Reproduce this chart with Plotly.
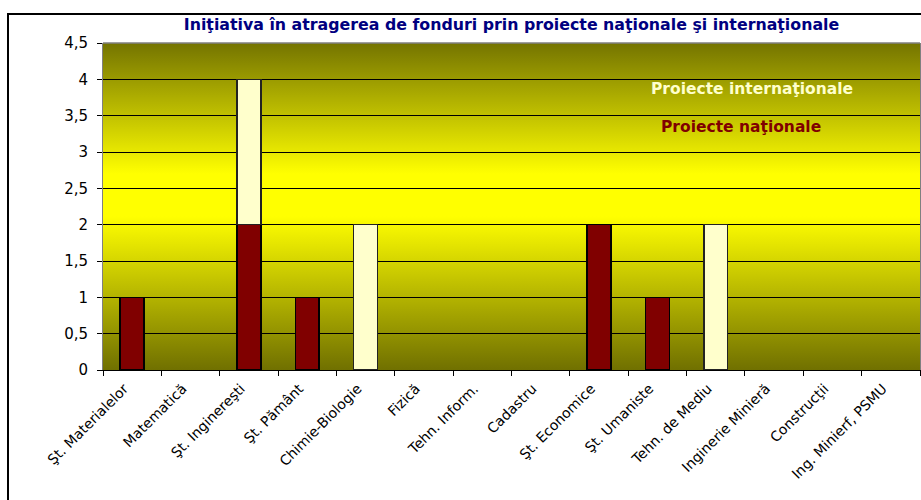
import base64
import plotly.graph_objects as go

# ---- data ----
categories = ["Şt. Materialelor", "Matematică", "Şt. Inginereşti", "Şt. Pământ",
              "Chimie-Biologie", "Fizică", "Tehn. Inform.", "Cadastru",
              "Şt. Economice", "Şt. Umaniste", "Tehn. de Mediu",
              "Inginerie Minieră", "Construcţii", "Ing. Minierf, PSMU"]
proiecte_nationale = [1, 0, 2, 1, 0, 0, 0, 0, 2, 1, 0, 0, 0, 0]
proiecte_internationale = [0, 0, 2, 0, 2, 0, 0, 0, 0, 0, 2, 0, 0, 0]
series_names = ["Proiecte naţionale", "Proiecte internaţionale"]
title_text = "Iniţiativa în atragerea de fonduri prin proiecte naţionale şi internaţionale"

COL_NAT = "#800000"
COL_INT = "#FFFFCC"
FONT = "DejaVu Sans"

def nz(vals):
    return [v if v else None for v in vals]

fig = go.Figure()
fig.add_trace(go.Bar(x=categories, y=nz(proiecte_nationale), name=series_names[0],
                     marker=dict(color=COL_NAT, line=dict(color="black", width=1.5))))
fig.add_trace(go.Bar(x=categories, y=nz(proiecte_internationale), name=series_names[1],
                     marker=dict(color=COL_INT, line=dict(color="#222222", width=1.5))))

# gradient background (olive - yellow - olive)
svg = ('<svg xmlns="http://www.w3.org/2000/svg" width="100" height="100" '
       'viewBox="0 0 100 100" preserveAspectRatio="none">'
       '<defs><linearGradient id="g" x1="0" y1="0" x2="0" y2="1">'
       '<stop offset="0" stop-color="#747400"/>'
       '<stop offset="0.40" stop-color="#ffff00"/>'
       '<stop offset="0.53" stop-color="#ffff00"/>'
       '<stop offset="1" stop-color="#707000"/>'
       '</linearGradient></defs>'
       '<rect x="0" y="0" width="100" height="100" fill="url(#g)"/></svg>')
src = "data:image/svg+xml;base64," + base64.b64encode(svg.encode()).decode()

fig.update_layout(
    width=921, height=500,
    barmode="stack", bargap=0.59,
    showlegend=False,
    separators=", ",
    paper_bgcolor="white", plot_bgcolor="rgba(0,0,0,0)",
    margin=dict(l=103, r=1, t=43, b=129.5),
    font=dict(family=FONT, size=14, color="black"),
    title=dict(text=title_text, x=0.5, xref="paper", xanchor="center",
               y=1 - 24 / 500, yref="container", yanchor="middle",
               font=dict(family=FONT, size=15.8, color="#000080", weight="bold")),
    images=[dict(source=src, xref="paper", yref="paper", x=0, y=1, sizex=1, sizey=1,
                 xanchor="left", yanchor="top", sizing="stretch", layer="below")],
    xaxis=dict(type="category", tickangle=-45, ticks="outside", ticklen=5,
               tickcolor="#000000", tickson="boundaries", showgrid=False,
               showline=True, linecolor="#000000", linewidth=1, mirror=False,
               ticklabelshift=-8, ticklabelstandoff=4,
               tickfont=dict(family=FONT, size=14, color="black")),
    yaxis=dict(range=[0, 4.5], dtick=0.5, ticks="outside", ticklen=5,
               tickcolor="#000000", showgrid=True, gridcolor="black", gridwidth=1,
               zeroline=False, showline=True, linecolor="#808080", linewidth=1,
               mirror=True, ticklabelstandoff=6,
               tickfont=dict(family=FONT, size=15, color="black")),
    shapes=[
        dict(type="line", xref="paper", yref="paper", x0=0, x1=1, y0=1, y1=1,
             line=dict(color="#808080", width=1.5), layer="above"),
        dict(type="rect", xref="paper", yref="paper",
             x0=(8 - 103) / 817, x1=(926 - 103) / 817,
             y0=(370.5 - 510) / 327.5, y1=(370.5 - 14) / 327.5,
             line=dict(color="black", width=2), fillcolor="rgba(0,0,0,0)",
             layer="above"),
    ],
    annotations=[
        dict(text="<b>" + series_names[1] + "</b>", xref="paper", yref="y",
             x=(752 - 103) / 817, y=3.87, xanchor="center", yanchor="middle",
             showarrow=False, font=dict(family=FONT, size=15.5, color=COL_INT)),
        dict(text="<b>" + series_names[0] + "</b>", xref="paper", yref="y",
             x=(741 - 103) / 817, y=3.35, xanchor="center", yanchor="middle",
             showarrow=False, font=dict(family=FONT, size=15.5, color=COL_NAT)),
    ],
)

fig.write_html(
    "out.html",
    config={"displayModeBar": False},
    post_script=("document.body.style.margin='0';"
                 "document.body.style.overflow='hidden';"
                 "document.documentElement.style.overflow='hidden';"),
)
